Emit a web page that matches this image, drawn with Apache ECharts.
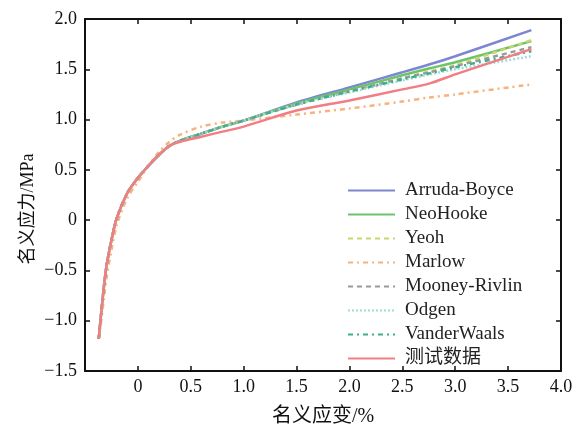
<!DOCTYPE html>
<html>
<head>
<meta charset="utf-8">
<script src="https://cdn.jsdelivr.net/npm/echarts@6/dist/echarts.min.js"></script>
<style>
  html, body { margin: 0; padding: 0; background: #fff; }
  #chart { width: 576px; height: 432px; }
</style>
</head>
<body>
<div id="chart"></div>
<script>
// strain (%) sample points shared by every curve
var strain = [-0.37, -0.34, -0.30, -0.25, -0.20, -0.10, 0, 0.1, 0.2, 0.3, 0.4, 0.6, 0.8, 1.0, 1.5, 2.0, 2.5, 2.76, 3.0, 3.72];

var arrudaBoyce  = [-1.18, -0.85, -0.48, -0.2, 0.02, 0.27, 0.42, 0.54, 0.65, 0.74, 0.79, 0.86, 0.93, 0.99, 1.17, 1.32, 1.47, 1.55, 1.63, 1.89];
var neoHooke     = [-1.18, -0.85, -0.48, -0.2, 0.02, 0.27, 0.42, 0.54, 0.65, 0.74, 0.79, 0.86, 0.93, 0.99, 1.16, 1.30, 1.44, 1.51, 1.57, 1.78];
var yeoh         = [-1.18, -0.85, -0.48, -0.2, 0.02, 0.27, 0.42, 0.54, 0.65, 0.74, 0.79, 0.86, 0.93, 0.99, 1.15, 1.28, 1.41, 1.48, 1.54, 1.79];
var marlow       = [-1.18, -0.95, -0.60, -0.3, -0.05, 0.22, 0.38, 0.54, 0.68, 0.78, 0.85, 0.93, 0.97, 0.99, 1.05, 1.11, 1.18, 1.22, 1.25, 1.35];
var mooneyRivlin = [-1.18, -0.85, -0.48, -0.2, 0.02, 0.27, 0.42, 0.54, 0.65, 0.74, 0.79, 0.86, 0.93, 0.99, 1.15, 1.28, 1.41, 1.47, 1.53, 1.72];
var odgen        = [-1.18, -0.85, -0.48, -0.2, 0.02, 0.27, 0.42, 0.54, 0.65, 0.74, 0.79, 0.86, 0.93, 0.99, 1.15, 1.27, 1.39, 1.45, 1.50, 1.63];
var vanderWaals  = [-1.18, -0.85, -0.48, -0.2, 0.02, 0.27, 0.42, 0.54, 0.65, 0.74, 0.79, 0.86, 0.93, 0.99, 1.15, 1.28, 1.40, 1.46, 1.52, 1.68];
var testData     = [-1.18, -0.85, -0.48, -0.2, 0.02, 0.27, 0.42, 0.54, 0.65, 0.74, 0.78, 0.83, 0.88, 0.93, 1.09, 1.19, 1.30, 1.36, 1.45, 1.70];

var serif = '"Liberation Serif", "Noto Sans CJK SC", serif';

function pairs(ys) {
  return strain.map(function (x, i) { return [x, ys[i]]; });
}

function fmt(v) {
  if (Math.abs(v) < 1e-9) return '0';
  return (v < 0 ? '\u2212' : '') + Math.abs(v).toFixed(1);
}

var seriesDefs = [
  { name: 'Arruda-Boyce', data: arrudaBoyce, color: '#7d86d0', type: 'solid' },
  { name: 'NeoHooke', data: neoHooke, color: '#6cc46a', type: 'solid' },
  { name: 'Yeoh', data: yeoh, color: '#c9d66e', type: [5, 4] },
  { name: 'Marlow', data: marlow, color: '#f8b27e', type: [5, 4, 2, 4] },
  { name: 'Mooney-Rivlin', data: mooneyRivlin, color: '#9a9a9a', type: [5, 4] },
  { name: 'Odgen', data: odgen, color: '#a3dcd6', type: [2, 2] },
  { name: 'VanderWaals', data: vanderWaals, color: '#3fae8c', type: [5, 4, 2, 4] },
  { name: '测试数据', data: testData, color: '#f27e84', type: 'solid' }
];

var mychart = echarts.init(document.getElementById('chart'));

var tickInside = { show: true, inside: true, length: 5, lineStyle: { color: '#111', width: 1.5 } };
var axisLine = { show: true, onZero: false, lineStyle: { color: '#111', width: 2 } };

var option = {
  backgroundColor: '#fff',
  animation: false,
  grid: { left: 85, right: 15, top: 19, bottom: 56 },
  legend: {
    orient: 'vertical',
    left: 342,
    top: 176,
    itemWidth: 47,
    itemHeight: 14,
    itemGap: 5,
    itemStyle: { opacity: 0 },
    textStyle: { fontFamily: serif, fontSize: 19, lineHeight: 16, color: '#222', padding: [0, 0, 0, 5] },
    data: seriesDefs.map(function (s) { return s.name; })
  },
  graphic: [{
    type: 'text',
    x: 28,
    y: 209,
    rotation: Math.PI / 2,
    style: {
      text: '名义应力/MPa',
      font: '18px ' + serif,
      fill: '#111',
      align: 'center',
      verticalAlign: 'middle'
    }
  }],
  xAxis: [{
    type: 'value',
    min: -0.5,
    max: 4.0,
    interval: 0.5,
    name: '名义应变/%',
    nameLocation: 'middle',
    nameGap: 36,
    nameTextStyle: { fontFamily: serif, fontSize: 20, color: '#111' },
    axisLine: axisLine,
    axisTick: tickInside,
    splitLine: { show: false },
    axisLabel: {
      fontFamily: serif, fontSize: 18, color: '#111', margin: 7,
      formatter: function (v) { return v < 0 ? '' : fmt(v); }
    }
  }, {
    type: 'value',
    position: 'top',
    min: -0.5,
    max: 4.0,
    interval: 0.5,
    axisLine: axisLine,
    axisTick: tickInside,
    splitLine: { show: false },
    axisLabel: { show: false }
  }],
  yAxis: [{
    type: 'value',
    min: -1.5,
    max: 2.0,
    interval: 0.5,
    axisLine: axisLine,
    axisTick: tickInside,
    splitLine: { show: false },
    axisLabel: { fontFamily: serif, fontSize: 18, color: '#111', margin: 8, formatter: fmt }
  }, {
    type: 'value',
    position: 'right',
    min: -1.5,
    max: 2.0,
    interval: 0.5,
    axisLine: axisLine,
    axisTick: tickInside,
    splitLine: { show: false },
    axisLabel: { show: false }
  }],
  series: seriesDefs.map(function (s) {
    return {
      name: s.name,
      type: 'line',
      smooth: 0.3,
      showSymbol: false,
      symbol: 'none',
      color: s.color,
      lineStyle: { color: s.color, width: 2.5, type: s.type },
      data: pairs(s.data)
    };
  })
};

mychart.setOption(option, true);
</script>
</body>
</html>
